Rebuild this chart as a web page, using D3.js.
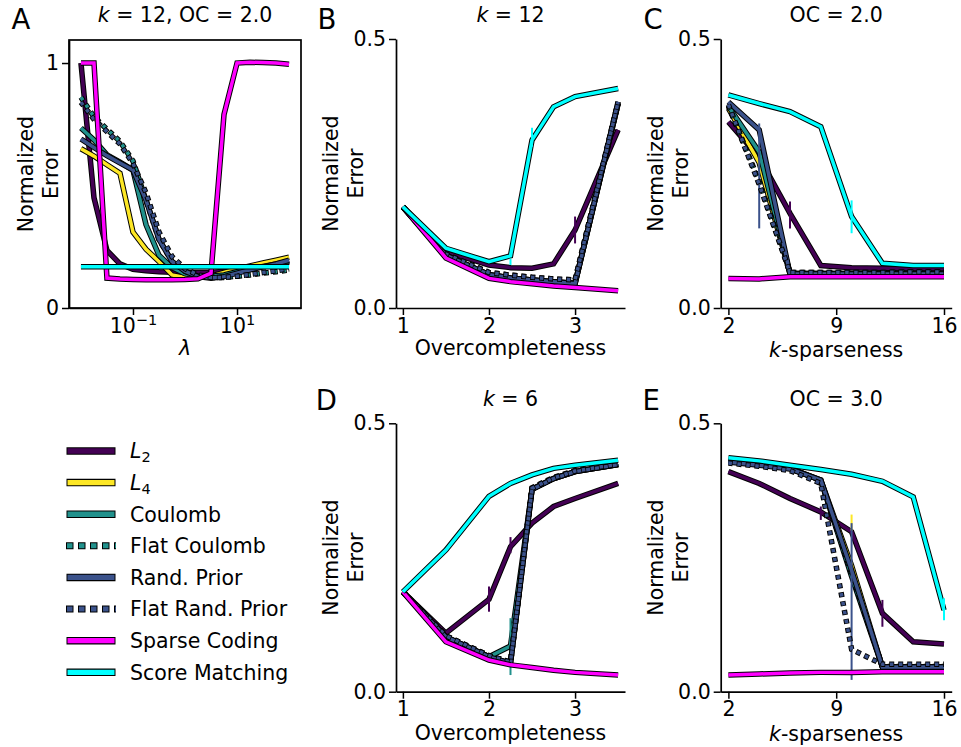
<!DOCTYPE html>
<html><head><meta charset="utf-8">
<script src="https://cdn.jsdelivr.net/npm/d3@7"></script>
<style>body{margin:0;background:#fff} svg{display:block} text{font-family:"DejaVu Sans",sans-serif;fill:#000}</style>
</head><body><svg id="fig" width="961" height="747"></svg>
<script>
// ---------------- DATA ----------------
const seriesNames = ["L2","L4","Coulomb","Flat Coulomb","Rand. Prior","Flat Rand. Prior","Sparse Coding","Score Matching"];
const lambdaValues = [0.01,0.0178,0.0316,0.0562,0.1,0.178,0.316,0.562,1,1.78,3.16,5.62,10,17.8,31.6,56.2,100];
const ocValues = [1,1.5,2,2.25,2.5,2.75,3,3.5];
const kValues = [2,4,6,8,10,12,14,16];

// panel A : k = 12, OC = 2.0 (error vs lambda), one row per series
const errorA = [
  [1.0,0.45,0.235,0.18,0.158,0.152,0.148,0.146,0.145,0.145,0.145,0.15,0.158,0.165,0.172,0.18,0.188],
  [0.65,0.62,0.585,0.55,0.31,0.24,0.19,0.135,0.125,0.125,0.13,0.145,0.16,0.172,0.184,0.195,0.207],
  [0.735,0.686,0.625,0.595,0.563,0.34,0.215,0.165,0.14,0.13,0.13,0.135,0.148,0.16,0.17,0.18,0.19],
  [0.86,0.78,0.73,0.68,0.60,0.44,0.28,0.19,0.15,0.13,0.125,0.125,0.13,0.135,0.142,0.148,0.155],
  [0.69,0.655,0.622,0.592,0.563,0.44,0.28,0.19,0.15,0.128,0.122,0.128,0.142,0.156,0.168,0.18,0.195],
  [0.84,0.77,0.72,0.67,0.59,0.47,0.31,0.21,0.16,0.135,0.125,0.125,0.13,0.137,0.145,0.152,0.16],
  [1.0,1.0,0.122,0.118,0.116,0.115,0.115,0.115,0.116,0.119,0.142,0.79,1.0,1.003,1.002,1.0,0.995],
  [0.168,0.168,0.168,0.168,0.168,0.168,0.168,0.168,0.168,0.168,0.168,0.168,0.168,0.168,0.168,0.168,0.168]
];
// panel B : k = 12 (error vs overcompleteness)
const errorB = [
  [0.188,0.105,0.080,0.075,0.074,0.082,0.145,0.331],
  [0.188,0.098,0.062,0.056,0.052,0.049,0.046,0.380],
  [0.188,0.098,0.062,0.056,0.052,0.049,0.046,0.380],
  [0.188,0.100,0.066,0.061,0.057,0.054,0.052,0.380],
  [0.188,0.098,0.062,0.056,0.052,0.049,0.045,0.383],
  [0.188,0.100,0.066,0.061,0.057,0.054,0.052,0.383],
  [0.188,0.093,0.055,0.049,0.045,0.041,0.038,0.032],
  [0.188,0.111,0.086,0.097,0.312,0.374,0.393,0.408]
];
// panel C : OC = 2.0 (error vs k)
const errorC = [
  [0.346,0.280,0.176,0.079,0.075,0.074,0.073,0.073],
  [0.371,0.270,0.064,0.064,0.064,0.064,0.064,0.064],
  [0.375,0.290,0.064,0.064,0.064,0.064,0.064,0.064],
  [0.376,0.235,0.066,0.066,0.066,0.066,0.067,0.067],
  [0.383,0.331,0.063,0.063,0.063,0.063,0.063,0.063],
  [0.378,0.230,0.066,0.066,0.066,0.066,0.067,0.067],
  [0.055,0.054,0.058,0.058,0.058,0.058,0.058,0.058],
  [0.396,0.380,0.365,0.337,0.170,0.083,0.079,0.079]
];
// panel D : k = 6 (error vs overcompleteness)
const errorD = [
  [0.186,0.109,0.172,0.270,0.314,0.345,0.360,0.388],
  [0.186,0.102,0.065,0.053,0.377,0.397,0.410,0.423],
  [0.186,0.102,0.065,0.085,0.377,0.397,0.410,0.423],
  [0.186,0.104,0.067,0.055,0.380,0.399,0.412,0.424],
  [0.186,0.102,0.065,0.053,0.377,0.397,0.410,0.423],
  [0.186,0.104,0.067,0.055,0.379,0.398,0.411,0.424],
  [0.186,0.093,0.059,0.050,0.045,0.040,0.036,0.031],
  [0.186,0.264,0.364,0.388,0.404,0.416,0.422,0.431]
];
// panel E : OC = 3.0 (error vs k)
const errorE = [
  [0.410,0.388,0.360,0.335,0.298,0.146,0.093,0.089],
  [0.430,0.424,0.416,0.394,0.235,0.046,0.046,0.046],
  [0.430,0.424,0.416,0.394,0.215,0.046,0.046,0.046],
  [0.430,0.424,0.416,0.393,0.220,0.047,0.047,0.047],
  [0.428,0.422,0.415,0.394,0.226,0.046,0.046,0.046],
  [0.426,0.420,0.412,0.388,0.079,0.051,0.051,0.051],
  [0.031,0.033,0.035,0.036,0.036,0.037,0.037,0.037],
  [0.436,0.430,0.422,0.414,0.405,0.392,0.363,0.152]
];
// error bars: [series index, x, low, high]
const barsB = [[7,2.25,0.080,0.092],[7,2.5,0.300,0.335],[0,3,0.120,0.170]];
const barsC = [[4,4,0.148,0.343],[0,6,0.148,0.198],[7,10,0.139,0.200]];
const barsD = [[0,2,0.149,0.196],[0,2.25,0.258,0.288],[2,2.25,0.031,0.137]];
const barsE = [[0,8,0.320,0.345],[1,10,0.300,0.330],[4,10,0.022,0.314],[0,12,0.121,0.171],[7,16,0.133,0.174]];

const ticksA_y = [0,1], ticksA_x = [0.1,10];
const ticksOC = [1,2,3], ticksK = [2,9,16], ticksErr = [0.0,0.5];

// ---------------- STYLE ----------------
const seriesColors = ["#440154","#fde725","#21918c","#21918c","#3b528b","#3b528b","#ff00ff","#00ffff"];
const seriesDotted = [false,false,false,true,false,true,false,false];
const FS = 20.5;
const svg = d3.select("#fig");

function styleAxis(g){
  g.attr("font-family","DejaVu Sans, sans-serif").attr("font-size",FS);
  g.selectAll(".domain").attr("stroke","#000").attr("stroke-width",1.7);
  g.selectAll(".tick line").attr("stroke","#000").attr("stroke-width",1.5);
  g.selectAll(".tick text").attr("fill","#000");
}

function drawLine(g, pts, color, dotted, wBlack, wCol){
  const p = d3.line()(pts);
  const b = g.append("path").attr("d",p).attr("fill","none").attr("stroke","#000")
    .attr("stroke-width",wBlack).attr("stroke-linejoin","miter").attr("stroke-miterlimit",3);
  const c = g.append("path").attr("d",p).attr("fill","none").attr("stroke",color)
    .attr("stroke-width",wCol).attr("stroke-linejoin","miter").attr("stroke-miterlimit",3);
  if(dotted){
    b.attr("stroke-dasharray","5,4").attr("stroke-dashoffset",0.75);
    c.attr("stroke-dasharray","3.5,5.5");
  } else {
    b.attr("stroke-linecap","butt"); c.attr("stroke-linecap","butt");
  }
}

function panel(cfg){
  const g = svg.append("g");
  const x = cfg.log ? d3.scaleLog().domain(cfg.xd).range([cfg.l,cfg.r])
                    : d3.scaleLinear().domain(cfg.xd).range([cfg.l,cfg.r]);
  const y = d3.scaleLinear().domain(cfg.yd).range([cfg.b,cfg.t]);
  const ax = g.append("g").attr("transform",`translate(0,${cfg.b})`)
    .call(d3.axisBottom(x).tickValues(cfg.xt).tickSize(7).tickSizeOuter(0).tickPadding(3)
      .tickFormat(cfg.log ? (()=>"") : d3.format("d")));
  styleAxis(ax);
  const ay = g.append("g").attr("transform",`translate(${cfg.l},0)`)
    .call(d3.axisLeft(y).tickValues(cfg.yt).tickSize(7).tickSizeOuter(0).tickPadding(3)
      .tickFormat(cfg.yfmt));
  styleAxis(ay);
  if(cfg.log){
    ax.selectAll(".tick text").each(function(d){
      const t = d3.select(this);
      const e = Math.round(Math.log10(d));
      t.text("10");
      t.append("tspan").attr("font-size",14.5).attr("dy",-8).text(e<0 ? "\u2212"+(-e) : ""+e);
    });
  }
  if(cfg.box){
    g.append("rect").attr("x",cfg.l).attr("y",cfg.t).attr("width",cfg.r-cfg.l).attr("height",cfg.b-cfg.t)
      .attr("fill","none").attr("stroke","#000").attr("stroke-width",1.7);
  }
  const lines = g.append("g");
  cfg.data.forEach((vals,si)=>{
    const pts = cfg.xv.map((xv,i)=>[x(xv), y(vals[i])]);
    drawLine(lines, pts, seriesColors[si], seriesDotted[si], 5.5, 3.5);
    (cfg.bars||[]).filter(b=>b[0]===si).forEach(b=>{
      lines.append("line").attr("x1",x(b[1])).attr("x2",x(b[1]))
        .attr("y1",y(b[2])).attr("y2",y(b[3]))
        .attr("stroke",seriesColors[si]).attr("stroke-width",2);
    });
  });
  svg.append("text").attr("x",cfg.lx).attr("y",cfg.ly).attr("font-size",27.5).text(cfg.letter);
  const cx = (cfg.l+cfg.r)/2;
  const tt = svg.append("text").attr("x",cx).attr("y",cfg.ty).attr("text-anchor","middle").attr("font-size",FS);
  cfg.title(tt);
  const xl = svg.append("text").attr("x",cx).attr("y",cfg.xly).attr("text-anchor","middle").attr("font-size",FS);
  cfg.xlabel(xl);
  const yc = (cfg.t+cfg.b)/2;
  ["Normalized","Error"].forEach((s,i)=>{
    svg.append("text").attr("transform",`translate(${cfg.ylx + i*24.6},${yc}) rotate(-90)`)
      .attr("text-anchor","middle").attr("font-size",FS).text(s);
  });
}

const fmt1 = d3.format(".1f");
const kTitle = v => t => { t.append("tspan").attr("font-style","italic").text("k"); t.append("tspan").text(" = "+v); };
const ocTitle = v => t => { t.text("OC = "+v); };
const ocLabel = t => t.text("Overcompleteness");
const kLabel = t => { t.append("tspan").attr("font-style","italic").text("k"); t.append("tspan").text("-sparseness"); };

panel({letter:"A",lx:11.5,ly:28.5,l:69,r:301,t:40,b:308,log:true,xd:[0.00589,169.8],yd:[0,1.094],
  xt:ticksA_x,yt:ticksA_y,yfmt:d3.format("d"),xv:lambdaValues,data:errorA,box:true,ty:21.5,xly:355,ylx:33.3,
  title:t=>{t.append("tspan").attr("font-style","italic").text("k"); t.append("tspan").text(" = 12, OC = 2.0");},
  xlabel:t=>t.append("tspan").attr("font-style","italic").text("\u03bb")});
panel({letter:"B",lx:317.5,ly:28.5,l:396,r:625,t:39,b:308,xd:[0.92,3.58],yd:[0,0.5],
  xt:ticksOC,yt:ticksErr,yfmt:fmt1,xv:ocValues,data:errorB,bars:barsB,ty:21.5,xly:355,ylx:338.3,
  title:kTitle(12),xlabel:ocLabel});
panel({letter:"C",lx:643.5,ly:28.5,l:720.7,r:951.7,t:39,b:308,xd:[1.5,16.5],yd:[0,0.5],
  xt:ticksK,yt:ticksErr,yfmt:fmt1,xv:kValues,data:errorC,bars:barsC,ty:21.5,xly:357,ylx:663.3,
  title:ocTitle("2.0"),xlabel:kLabel});
panel({letter:"D",lx:315.8,ly:410,l:396,r:625,t:423.3,b:691.7,xd:[0.92,3.58],yd:[0,0.5],
  xt:ticksOC,yt:ticksErr,yfmt:fmt1,xv:ocValues,data:errorD,bars:barsD,ty:406,xly:739.5,ylx:338.3,
  title:kTitle(6),xlabel:ocLabel});
panel({letter:"E",lx:642.5,ly:410,l:720.7,r:951.7,t:423.3,b:691.7,xd:[1.5,16.5],yd:[0,0.5],
  xt:ticksK,yt:ticksErr,yfmt:fmt1,xv:kValues,data:errorE,bars:barsE,ty:406,xly:741,ylx:663.3,
  title:ocTitle("3.0"),xlabel:kLabel});

// ---------------- LEGEND ----------------
const leg = svg.append("g");
const legY = d3.scalePoint().domain(seriesNames).range([451,672.3]);
seriesNames.forEach((name,si)=>{
  const yy = legY(name);
  if(seriesDotted[si]){
    leg.append("line").attr("x1",66).attr("x2",116).attr("y1",yy).attr("y2",yy)
      .attr("stroke","#000").attr("stroke-width",7).attr("stroke-dasharray","7.5,4.5");
    leg.append("line").attr("x1",67).attr("x2",116).attr("y1",yy).attr("y2",yy)
      .attr("stroke",seriesColors[si]).attr("stroke-width",5).attr("stroke-dasharray","5.5,6.5");
  } else {
    leg.append("line").attr("x1",66.5).attr("x2",115.5).attr("y1",yy).attr("y2",yy)
      .attr("stroke","#000").attr("stroke-width",7.5);
    leg.append("line").attr("x1",67.5).attr("x2",114.5).attr("y1",yy).attr("y2",yy)
      .attr("stroke",seriesColors[si]).attr("stroke-width",5.3);
  }
  const t = leg.append("text").attr("x",130).attr("y",yy).attr("dy","0.36em").attr("font-size",FS);
  if(name==="L2"||name==="L4"){
    t.append("tspan").attr("font-style","italic").text("L");
    t.append("tspan").attr("font-size",14.5).attr("dy",4).text(name.slice(1));
  } else t.text(name);
});
</script></body></html>
